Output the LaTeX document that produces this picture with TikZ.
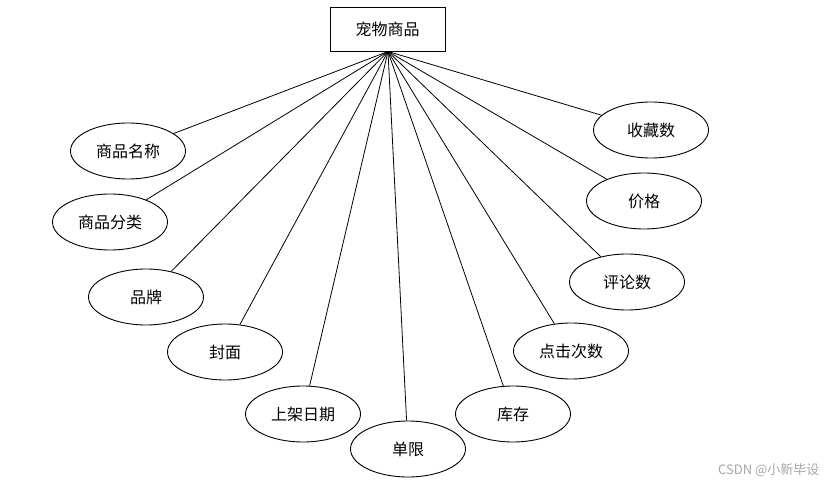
\documentclass[tikz,border=0pt]{standalone}
\usepackage{fontspec}
\newfontfamily\cjk{Noto Sans CJK SC}
\usetikzlibrary{shapes.geometric}
\begin{document}
\begin{tikzpicture}[x=1pt,y=-1pt,
  entity/.style={draw, line width=0.9pt, minimum width=115pt, minimum height=44pt, font=\cjk\fontsize{16}{16}\selectfont, inner sep=0pt},
  attr/.style={draw, ellipse, line width=0.9pt, minimum width=115pt, minimum height=56pt, inner sep=0pt, font=\cjk\fontsize{16}{16}\selectfont},
  link/.style={line width=0.8pt}]
\useasboundingbox (0,0) rectangle (834,489);
\node[entity] (pet) at (387.5,29) {宠物商品};
\coordinate (hub) at (388,51.5);
\node[attr] (a1) at (128,151) {商品名称};
\node[attr] (a2) at (110,222) {商品分类};
\node[attr] (a3) at (146,297) {品牌};
\node[attr] (a4) at (225,352) {封面};
\node[attr] (a5) at (303,414) {上架日期};
\node[attr] (a6) at (408,449) {单限};
\node[attr] (a7) at (513,414) {库存};
\node[attr] (a8) at (571,351) {点击次数};
\node[attr] (a9) at (627,282) {评论数};
\node[attr] (a10) at (644,201) {价格};
\node[attr] (a11) at (651,130) {收藏数};
\foreach \i in {1,...,11} { \draw[link] (hub) -- (a\i); }
\node[text=black!35, font=\cjk\fontsize{13}{13}\selectfont, anchor=east] (wm) at (823,470) {CSDN @小新毕设};
\end{tikzpicture}
\end{document}
